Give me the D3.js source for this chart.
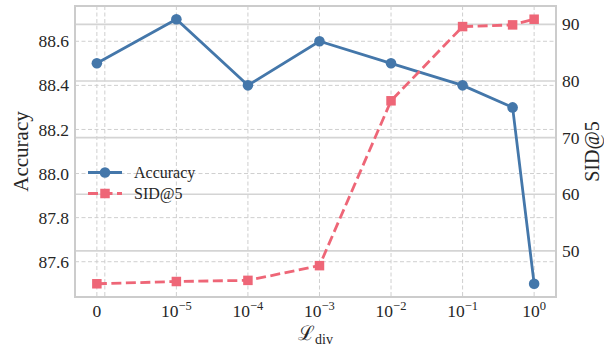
<!DOCTYPE html>
<html>
<head>
<meta charset="utf-8">
<script src="https://cdn.jsdelivr.net/npm/d3@7"></script>
<style>
  html, body { margin: 0; padding: 0; background: #fff; }
  svg { display: block; }
  text { font-family: "Liberation Serif", "DejaVu Serif", serif; fill: #262626; }
</style>
</head>
<body>
<svg id="chart" width="604" height="351"></svg>
<script>
// ---- data ----
const xValues   = [0, 1e-5, 1e-4, 1e-3, 1e-2, 1e-1, 0.5, 1];
const accuracy  = [88.5, 88.7, 88.4, 88.6, 88.5, 88.4, 88.3, 87.5];
const sid5      = [44.2, 44.6, 44.8, 47.4, 76.5, 89.6, 89.9, 90.9];
const xTicks    = [0, 1e-5, 1e-4, 1e-3, 1e-2, 1e-1, 1];
const xTickExp  = [null, "−5", "−4", "−3", "−2", "−1", "0"];
const xGridExtra = [1e-6];
const accTicks  = [87.6, 87.8, 88.0, 88.2, 88.4, 88.6];
const sidTicks  = [50, 60, 70, 80, 90];
const seriesNames = ["Accuracy", "SID@5"];
const colors = { acc: "#4477AA", sid: "#EE6677" };

// ---- symlog transform (matplotlib style, linthresh 1e-5, linscale 1) ----
const linthresh = 1e-5, linscaleAdj = 1 / (1 - 1 / 10);
function symT(v) {
  const a = Math.abs(v);
  if (a <= linthresh) return v / linthresh * linscaleAdj;
  return Math.sign(v) * (linscaleAdj + Math.log10(a / linthresh));
}

const L = 75, R = 556, T = 6, B = 297;
const svg = d3.select("#chart");

function padDomain(lo, hi) { const m = (hi - lo) * 0.05; return [lo - m, hi + m]; }
const tExt = d3.extent(xValues.map(symT));
const xLin = d3.scaleLinear().domain(padDomain(tExt[0], tExt[1])).range([L, R]);
const x = v => xLin(symT(v));
const yAcc = d3.scaleLinear().domain(padDomain(d3.min(accuracy), d3.max(accuracy))).range([B, T]);
const ySid = d3.scaleLinear().domain(padDomain(d3.min(sid5), d3.max(sid5))).range([B, T]);

// ---- grids ----
const gGrid = svg.append("g");
gGrid.selectAll("line.vx").data(xTicks.concat(xGridExtra)).join("line")
  .attr("x1", d => x(d)).attr("x2", d => x(d)).attr("y1", T).attr("y2", B)
  .attr("stroke", "#cfcfcf").attr("stroke-width", 1).attr("stroke-dasharray", "4,2.5");
gGrid.selectAll("line.hy").data(accTicks).join("line")
  .attr("x1", L).attr("x2", R).attr("y1", d => yAcc(d)).attr("y2", d => yAcc(d))
  .attr("stroke", "#cfcfcf").attr("stroke-width", 1).attr("stroke-dasharray", "4,2.5");
const gGrid2 = svg.append("g");
gGrid2.selectAll("line").data(sidTicks).join("line")
  .attr("x1", L).attr("x2", R).attr("y1", d => ySid(d)).attr("y2", d => ySid(d))
  .attr("stroke", "#d4d4d4").attr("stroke-width", 1.6);

// ---- axes (labels only) ----
const gLeft = svg.append("g").attr("transform", `translate(${L},0)`)
  .call(d3.axisLeft(yAcc).tickValues(accTicks).tickFormat(d3.format(".1f")).tickSize(0).tickPadding(6));
const gRight = svg.append("g").attr("transform", `translate(${R},0)`)
  .call(d3.axisRight(ySid).tickValues(sidTicks).tickFormat(d3.format("d")).tickSize(0).tickPadding(6));
[gLeft, gRight].forEach(g => {
  g.select(".domain").remove();
  g.selectAll("text").attr("font-family", "Liberation Serif, serif").attr("font-size", 17.5).attr("fill", "#262626");
});

// x tick labels with superscripts
const gX = svg.append("g");
xTicks.forEach((v, i) => {
  const t = gX.append("text").attr("x", x(v)).attr("y", 317).attr("text-anchor", "middle")
    .attr("font-size", 17.5);
  if (xTickExp[i] === null) { t.text("0"); }
  else {
    t.append("tspan").text("10");
    t.append("tspan").attr("font-size", 12.5).attr("dy", -7).text(xTickExp[i]);
  }
});

// axis titles
svg.append("text").attr("transform", `translate(28,${(T + B) / 2}) rotate(-90)`)
  .attr("text-anchor", "middle").attr("font-size", 21).text("Accuracy");
svg.append("text").attr("transform", `translate(599,${(T + B) / 2}) rotate(-90)`)
  .attr("text-anchor", "middle").attr("font-size", 20).text("SID@5");
const xl = svg.append("text").attr("x", (L + R) / 2).attr("y", 340).attr("text-anchor", "middle");
xl.append("tspan").attr("font-family", "DejaVu Serif, serif").attr("font-size", 20).text("ℒ");
xl.append("tspan").attr("font-size", 14).attr("dy", 4).text("div");

// ---- series ----
const lineAcc = d3.line().x((d, i) => x(xValues[i])).y(d => yAcc(d));
const lineSid = d3.line().x((d, i) => x(xValues[i])).y(d => ySid(d));
svg.append("path").datum(accuracy).attr("d", lineAcc).attr("fill", "none")
  .attr("stroke", colors.acc).attr("stroke-width", 2.8);
svg.append("g").selectAll("circle").data(accuracy).join("circle")
  .attr("cx", (d, i) => x(xValues[i])).attr("cy", d => yAcc(d)).attr("r", 5.3).attr("fill", colors.acc);

svg.append("path").datum(sid5).attr("d", lineSid).attr("fill", "none")
  .attr("stroke", colors.sid).attr("stroke-width", 2.8).attr("stroke-dasharray", "10,4.5");
const sq = 9.5;
svg.append("g").selectAll("rect").data(sid5).join("rect")
  .attr("x", (d, i) => x(xValues[i]) - sq / 2).attr("y", d => ySid(d) - sq / 2)
  .attr("width", sq).attr("height", sq).attr("fill", colors.sid);

// ---- legend ----
const leg = svg.append("g");
const legY = [172.5, 193.5];
leg.append("line").attr("x1", 88).attr("x2", 122).attr("y1", legY[0]).attr("y2", legY[0])
  .attr("stroke", colors.acc).attr("stroke-width", 2.8);
leg.append("circle").attr("cx", 105).attr("cy", legY[0]).attr("r", 5.3).attr("fill", colors.acc);
leg.append("line").attr("x1", 88).attr("x2", 122).attr("y1", legY[1]).attr("y2", legY[1])
  .attr("stroke", colors.sid).attr("stroke-width", 2.8).attr("stroke-dasharray", "10,4.5");
leg.append("rect").attr("x", 105 - sq / 2).attr("y", legY[1] - sq / 2).attr("width", sq).attr("height", sq)
  .attr("fill", colors.sid);
seriesNames.forEach((n, i) => {
  leg.append("text").attr("x", 134).attr("y", legY[i]).attr("dy", "0.33em").attr("font-size", 16).text(n);
});

// ---- spines ----
svg.append("rect").attr("x", L).attr("y", T).attr("width", R - L).attr("height", B - T)
  .attr("fill", "none").attr("stroke", "#cccccc").attr("stroke-width", 2);
</script>
</body>
</html>
